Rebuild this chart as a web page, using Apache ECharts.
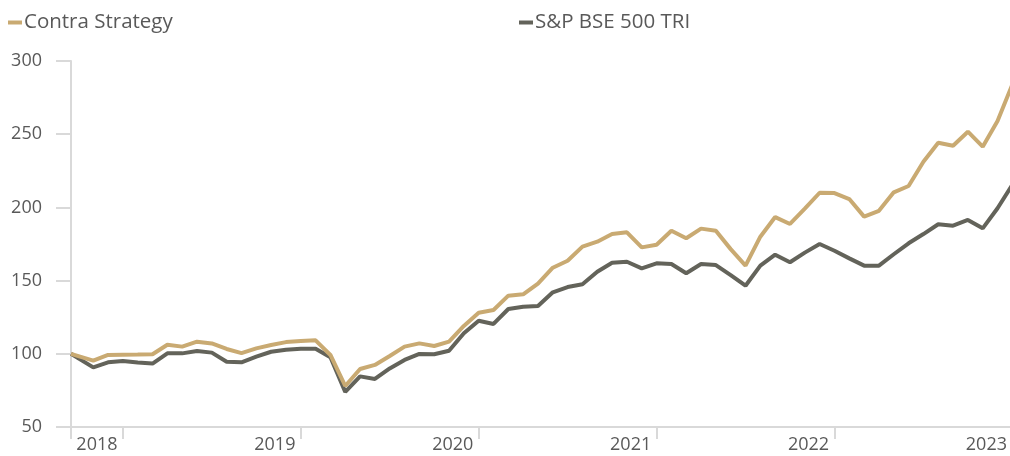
<!DOCTYPE html>
<html>
<head>
<meta charset="utf-8">
<script src="https://cdn.jsdelivr.net/npm/echarts@6/dist/echarts.min.js"></script>
<style>
html,body{margin:0;padding:0;background:#fff;}
#chart{width:1010px;height:456px;}
</style>
</head>
<body>
<div id="chart"></div>
<script>
// x positions in months from inception (first point is inception, then month-end points)
const monthPos = [0, 1.5, 2.5, 3.5, 4.5, 5.5, 6.5, 7.5, 8.5, 9.5, 10.5, 11.5, 12.5, 13.5, 14.5, 15.5,
  16.5, 17.5, 18.5, 19.5, 20.5, 21.5, 22.5, 23.5, 24.5, 25.5, 26.5, 27.5, 28.5, 29.5, 30.5, 31.5,
  32.5, 33.5, 34.5, 35.5, 36.5, 37.5, 38.5, 39.5, 40.5, 41.5, 42.5, 43.5, 44.5, 45.5, 46.5, 47.5,
  48.5, 49.5, 50.5, 51.5, 52.5, 53.5, 54.5, 55.5, 56.5, 57.5, 58.5, 59.5, 60.5, 61.5, 62.5, 63.5];

const contra = [100, 95.3, 99.2, 99.4, 99.5, 99.7, 106.2, 104.9, 108.3, 107.1, 103.3, 100.5, 103.7, 106, 108, 108.7,
  109.2, 99.2, 78, 89.6, 92.4, 98.5, 104.9, 107.1, 105.3, 108.3, 119, 128.1, 129.9, 139.7, 140.6, 148,
  158.8, 163.6, 173.2, 176.6, 181.8, 183, 172.7, 174.5, 184.1, 178.9, 185.5, 184.1, 171.5, 160.2, 180, 193.4,
  188.7, 199.1, 210, 209.8, 205.7, 193.7, 197.7, 210.3, 214.6, 231.2, 244.2, 242.1, 251.7, 241.5, 259, 284];

const bse = [100, 90.7, 94.2, 95.1, 94, 93.3, 100.3, 100.3, 101.9, 100.8, 94.6, 94.2, 98, 101.4, 102.8, 103.5,
  103.5, 97.6, 74, 84.6, 82.8, 90, 95.8, 99.9, 99.7, 102.1, 114, 122.6, 120.4, 130.6, 132.2, 132.6,
  142, 145.6, 147.5, 156.1, 162.2, 162.9, 158.4, 161.8, 161.3, 155, 161.3, 160.6, 153.8, 146.5, 160.2, 167.7,
  162.5, 169.1, 175, 170.4, 165.2, 160.2, 160.2, 168, 175.5, 181.8, 188.5, 187.5, 191.4, 185.7, 199.4, 215.5];

const yearLabels = ['2018', '2019', '2020', '2021', '2022', '2023'];
const yearLabelPos = [1.75, 13.75, 25.75, 37.75, 49.75, 61.75];
const yearTickPos = [0, 3.5, 15.5, 27.5, 39.5, 51.5];

const seriesNames = ['Contra Strategy', 'S&P BSE 500 TRI'];
const colors = ['#C9AA72', '#63635A'];

const FONT = '"Open Sans", "Noto Sans", sans-serif';
const TXT = '#595959';
const AXIS = '#D9D9D9';

const chart = echarts.init(document.getElementById('chart'), null, {renderer: 'canvas'});
const pairs = arr => arr.map((v, i) => [monthPos[i], v]);

chart.setOption({
  animation: false,
  backgroundColor: '#fff',
  textStyle: {fontFamily: FONT},
  legend: [
    {data: [seriesNames[0]], left: 8, top: 12, padding: 0, icon: 'rect', itemWidth: 14, itemHeight: 4, itemGap: 0,
      textStyle: {fontSize: 20.5, color: TXT, fontFamily: FONT, padding: [0, 0, 0, -3]}},
    {data: [seriesNames[1]], left: 519, top: 12, padding: 0, icon: 'rect', itemWidth: 14, itemHeight: 4, itemGap: 0,
      textStyle: {fontSize: 20.5, color: TXT, fontFamily: FONT, padding: [0, 0, 0, -3]}}
  ],
  grid: {left: 71, right: 0, top: 61, bottom: 29, containLabel: false},
  xAxis: {
    type: 'value', min: 0, max: 63.32,
    axisLine: {show: true, lineStyle: {color: AXIS, width: 2}},
    axisTick: {show: true, length: 12, lineStyle: {color: AXIS, width: 2}, customValues: yearTickPos},
    axisLabel: {
      show: true, customValues: yearLabelPos, margin: 9, fontSize: 18, color: TXT, fontFamily: FONT,
      formatter: v => { const i = yearLabelPos.indexOf(v); return i >= 0 ? yearLabels[i] : ''; }
    },
    splitLine: {show: false}
  },
  yAxis: {
    type: 'value', min: 50, max: 300, interval: 50,
    axisLine: {show: true, lineStyle: {color: AXIS, width: 2}},
    axisTick: {show: true, length: 15, lineStyle: {color: AXIS, width: 2}},
    axisLabel: {margin: 29, fontSize: 18, color: TXT, fontFamily: FONT},
    splitLine: {show: false}
  },
  series: [
    {name: seriesNames[0], type: 'line', data: pairs(contra), color: colors[0], showSymbol: false,
      lineStyle: {width: 4, color: colors[0]}, itemStyle: {color: colors[0]}, clip: true, z: 3},
    {name: seriesNames[1], type: 'line', data: pairs(bse), color: colors[1], showSymbol: false,
      lineStyle: {width: 4, color: colors[1]}, itemStyle: {color: colors[1]}, clip: true, z: 2}
  ]
});
</script>
</body>
</html>
